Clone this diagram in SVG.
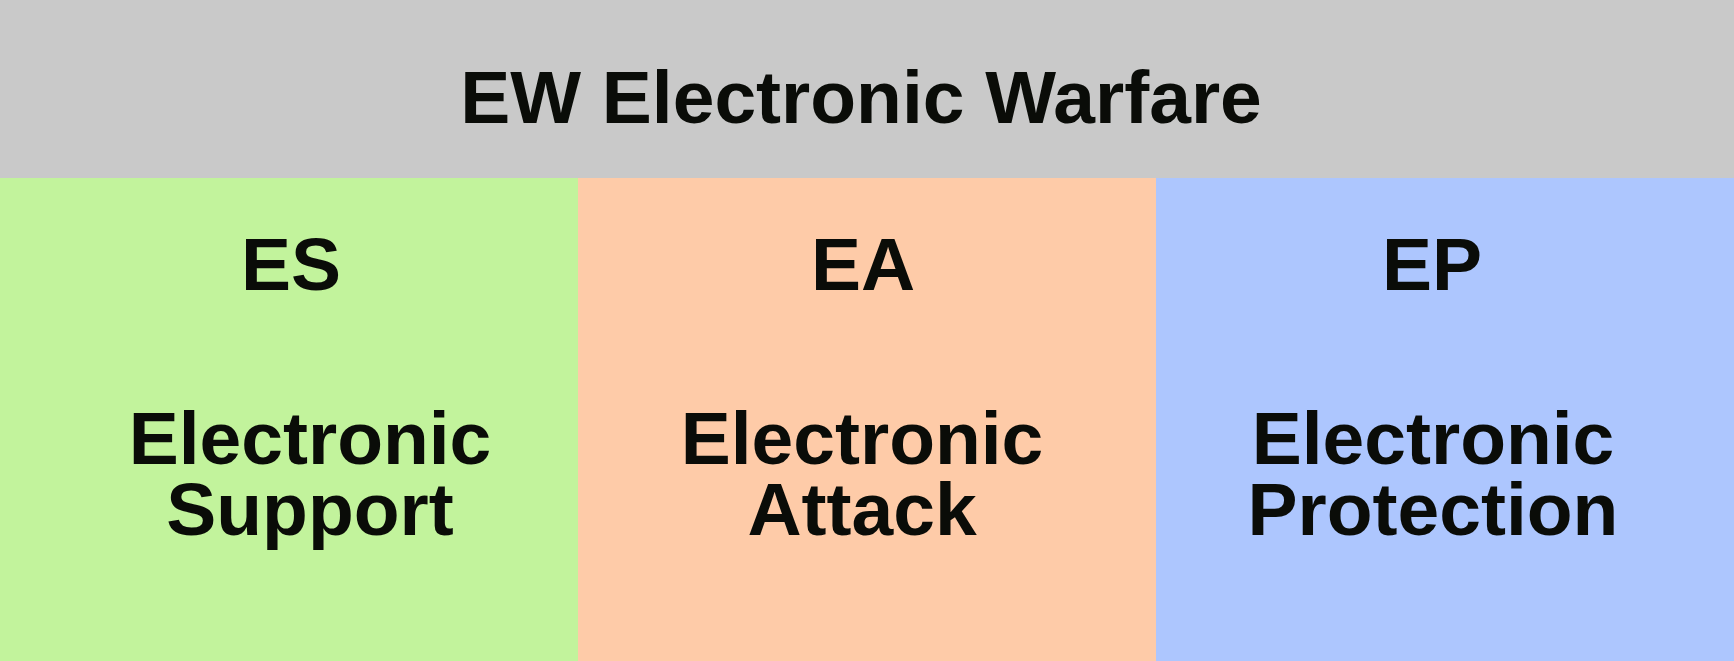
<svg xmlns="http://www.w3.org/2000/svg" width="1734" height="661" viewBox="0 0 1734 661">
  <style>
    .t { font-family: "Liberation Sans", Arial, sans-serif; font-weight: bold; font-size: 75px; fill: #0a0c08; text-anchor: middle; }
  </style>
  <g id="ew">
    <rect x="0" y="0" width="1734" height="178" fill="#c9c9c9"/>
    <text class="t" x="861" y="123">EW Electronic Warfare</text>
  </g>
  <g id="es">
    <rect x="0" y="178" width="578" height="483" fill="#c2f39c"/>
    <text class="t" x="291" y="290">ES</text>
    <text class="t" x="310" y="464">Electronic</text>
    <text class="t" x="310" y="535">Support</text>
  </g>
  <g id="ea">
    <rect x="578" y="178" width="578" height="483" fill="#fecba8"/>
    <text class="t" x="863" y="290">EA</text>
    <text class="t" x="862" y="464">Electronic</text>
    <text class="t" x="862" y="535">Attack</text>
  </g>
  <g id="ep">
    <rect x="1156" y="178" width="578" height="483" fill="#adc6fe"/>
    <text class="t" x="1432" y="290">EP</text>
    <text class="t" x="1433" y="464">Electronic</text>
    <text class="t" x="1433" y="535">Protection</text>
  </g>
  <g id="connectors"/>
</svg>
